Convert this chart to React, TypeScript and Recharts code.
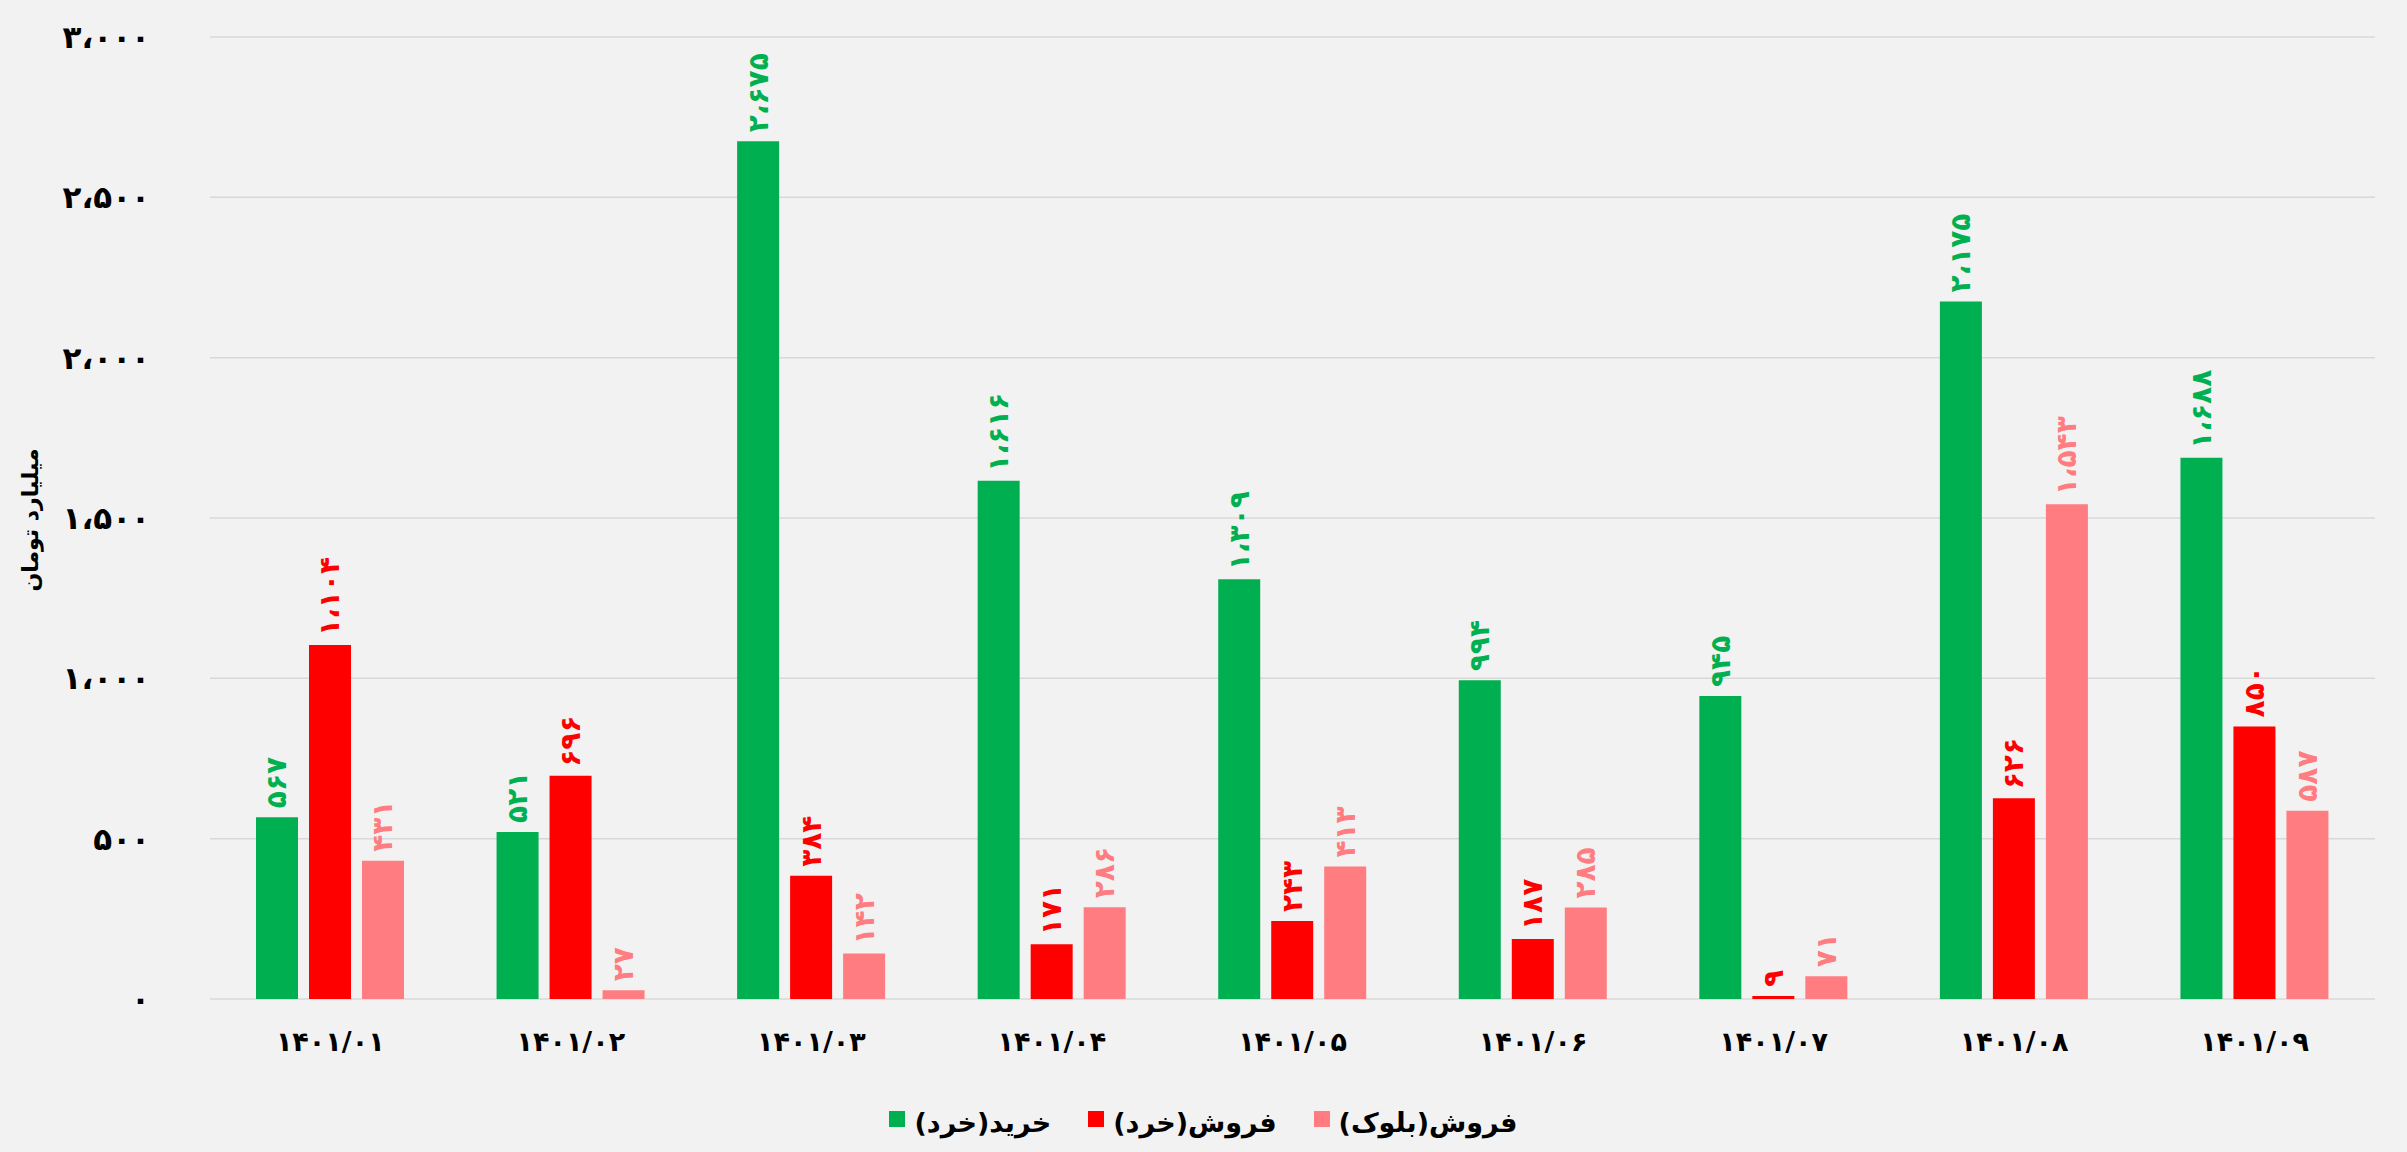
import { BarChart, Bar, XAxis, YAxis, CartesianGrid } from 'recharts';

const categories = ['۱۴۰۱/۰۱', '۱۴۰۱/۰۲', '۱۴۰۱/۰۳', '۱۴۰۱/۰۴', '۱۴۰۱/۰۵', '۱۴۰۱/۰۶', '۱۴۰۱/۰۷', '۱۴۰۱/۰۸', '۱۴۰۱/۰۹'];
const retailBuy = [567, 521, 2675, 1616, 1309, 994, 945, 2175, 1688];
const retailSell = [1104, 696, 384, 171, 243, 187, 9, 626, 850];
const blockSell = [431, 27, 142, 286, 413, 285, 71, 1543, 587];
const yTicks = [0, 500, 1000, 1500, 2000, 2500, 3000];
const seriesNames = ['خرید(خرد)', 'فروش(خرد)', 'فروش(بلوک)'];
const seriesColors = ['#00b050', '#ff0000', '#ff7c80'];
const yAxisTitle = 'میلیارد تومان';

const FONT = '"DejaVu Sans", sans-serif';
const faDigits = '۰۱۲۳۴۵۶۷۸۹';

function toFa(n: number) {
  return n
    .toLocaleString('en-US')
    .replace(/,/g, '،')
    .replace(/[0-9]/g, (d) => faDigits[Number(d)]);
}

const data = categories.map((name, i) => ({
  name,
  buy: retailBuy[i],
  sell: retailSell[i],
  block: blockSell[i],
}));

function makeLabel(color: string) {
  return (props: any) => {
    const { x, y, width, value } = props;
    const cx = x + width / 2;
    const cy = y - 9;
    return (
      <text
        x={cx}
        y={cy}
        transform={`rotate(-90 ${cx} ${cy})`}
        textAnchor="start"
        dominantBaseline="central"
        fill={color}
        fontFamily={FONT}
        fontWeight="bold"
        fontSize={28}
      >
        {toFa(value)}
      </text>
    );
  };
}

export default function App() {
  return (
    <div style={{ position: 'fixed', left: 0, top: 0, width: 2407, height: 1152, background: '#f2f2f2', overflow: 'hidden' }}>
      <BarChart
        width={2407}
        height={1152}
        data={data}
        margin={{ top: 37, right: 32, left: 0, bottom: 123 }}
        barCategoryGap={46}
        barGap={11}
      >
        <CartesianGrid vertical={false} stroke="#d8d8d8" strokeWidth={1.5} />
        <XAxis
          dataKey="name"
          height={30}
          axisLine={false}
          tickLine={false}
          tickSize={0}
          tickMargin={33}
          interval={0}
          tick={{ fill: '#000', fontFamily: FONT, fontWeight: 'bold', fontSize: 27 }}
        />
        <YAxis
          width={210}
          domain={[0, 3000]}
          ticks={yTicks}
          axisLine={false}
          tickLine={false}
          tickSize={0}
          tickMargin={60}
          tickFormatter={toFa}
          tick={{ fill: '#000', fontFamily: FONT, fontWeight: 'bold', fontSize: 31 }}
        />
        <Bar dataKey="buy" name={seriesNames[0]} fill={seriesColors[0]} isAnimationActive={false} label={makeLabel(seriesColors[0])} />
        <Bar dataKey="sell" name={seriesNames[1]} fill={seriesColors[1]} isAnimationActive={false} label={makeLabel(seriesColors[1])} />
        <Bar dataKey="block" name={seriesNames[2]} fill={seriesColors[2]} isAnimationActive={false} label={makeLabel(seriesColors[2])} />
      </BarChart>

      {/* y axis title */}
      <div
        style={{
          position: 'absolute',
          left: 30,
          top: 520,
          transform: 'translate(-50%, -50%) rotate(-90deg)',
          whiteSpace: 'nowrap',
          fontFamily: FONT,
          fontWeight: 'bold',
          fontSize: 22,
          direction: 'rtl',
        }}
      >
        {yAxisTitle}
      </div>

      {/* legend */}
      <div
        style={{
          position: 'absolute',
          left: 0,
          width: 2407,
          top: 1107,
          display: 'flex',
          justifyContent: 'center',
          gap: 37,
          fontFamily: FONT,
          fontWeight: 'bold',
          fontSize: 27,
        }}
      >
        {seriesNames.map((n, i) => (
          <div key={n} style={{ display: 'flex', alignItems: 'flex-start', gap: 9 }}>
            <span style={{ width: 16, height: 16, marginTop: 4, background: seriesColors[i], display: 'inline-block' }} />
            <span style={{ direction: 'rtl', unicodeBidi: 'isolate' }}>{n}</span>
          </div>
        ))}
      </div>
    </div>
  );
}
